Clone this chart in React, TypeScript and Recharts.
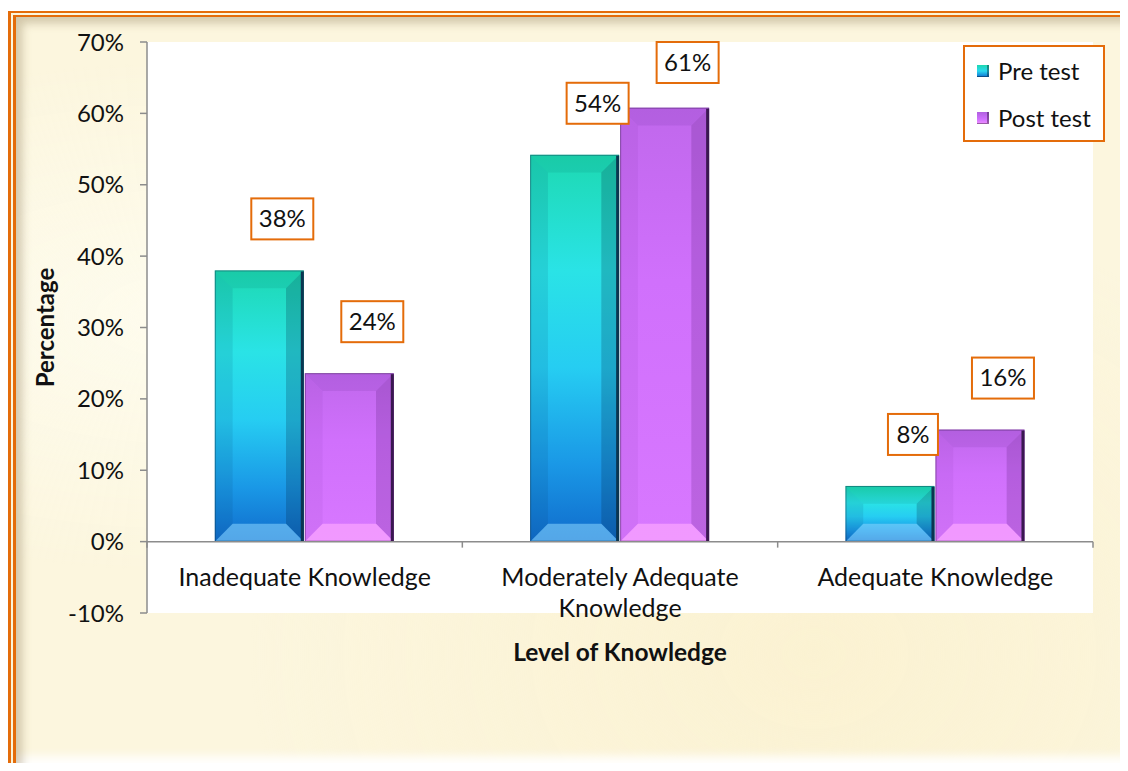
import { BarChart, Bar, XAxis, YAxis, CartesianGrid, Legend, LabelList, ReferenceLine, Label } from 'recharts'

const categories = ['Inadequate Knowledge', 'Moderately Adequate Knowledge', 'Adequate Knowledge']
const preTest = [38, 54.2, 7.8]
const postTest = [23.6, 60.8, 15.7]
const seriesNames = ['Pre test', 'Post test']
const yTicks = [-10, 0, 10, 20, 30, 40, 50, 60, 70]

const data = categories.map((name, i) => ({ name, pre: preTest[i], post: postTest[i] }))

const W = 1128
const H = 771
const MARGIN = { top: 42, right: 35, bottom: 128, left: 20 }
const Y_AXIS_W = 127
const X_AXIS_H = 30
const PLOT_TOP = MARGIN.top
const PLOT_H = H - MARGIN.top - MARGIN.bottom - X_AXIS_H
const PLOT_W = W - MARGIN.left - Y_AXIS_W - MARGIN.right
const Y_MIN = -10
const Y_MAX = 70
const ZERO_Y = PLOT_TOP + (Y_MAX / (Y_MAX - Y_MIN)) * PLOT_H
const HALF_BAND = PLOT_W / categories.length / 2

const FONT = 'Lato, "Open Sans", sans-serif'
const ORANGE = '#e46c0a'
const AXIS = '#8c8c8c'

const preColors = { face: 'preFace', top: 'rgba(0,90,80,0.10)', left: 'rgba(0,50,90,0.10)', right: 'rgba(0,30,60,0.22)', bottom: 'rgba(140,215,255,0.55)', edge: '#0b3550' }
const postColors = { face: 'postFace', top: 'rgba(90,30,140,0.12)', left: 'rgba(80,20,120,0.06)', right: 'rgba(60,10,90,0.18)', bottom: 'rgba(255,170,255,0.65)', edge: '#3a1850' }

function bevelShape(c: typeof preColors) {
  return (props: any) => {
    const { x, y, width, height } = props
    if (!height || height <= 0) return null
    const b = Math.min(19, width / 5, height / 3)
    const r = x + width
    const btm = y + height
    return (
      <g>
        <rect x={x} y={y} width={width} height={height} fill={`url(#${c.face})`} />
        <polygon points={`${x},${y} ${r},${y} ${r - b},${y + b} ${x + b},${y + b}`} fill={c.top} />
        <polygon points={`${x},${y} ${x + b},${y + b} ${x + b},${btm - b} ${x},${btm}`} fill={c.left} />
        <polygon points={`${r},${y} ${r},${btm} ${r - b},${btm - b} ${r - b},${y + b}`} fill={c.right} />
        <polygon points={`${x},${btm} ${x + b},${btm - b} ${r - b},${btm - b} ${r},${btm}`} fill={c.bottom} />
        <rect x={x + 0.5} y={y + 0.5} width={width - 1} height={height - 1} fill="none" stroke={c.edge} strokeOpacity={0.45} />
        <line x1={r - 1.5} y1={y + 1} x2={r - 1.5} y2={btm} stroke={c.edge} strokeWidth={3} />
      </g>
    )
  }
}

function BoxLabel(props: any) {
  const { x, y, width, value } = props
  const text = `${Math.round(value)}%`
  const bw = text.length * 12 + 26
  const bh = 41
  const cx = x + width / 2 + 23
  const top = Math.max(PLOT_TOP, y - 72)
  return (
    <g>
      <rect x={cx - bw / 2} y={top} width={bw} height={bh} fill="#fff" stroke={ORANGE} strokeWidth={2} />
      <text x={cx} y={top + bh / 2} dy="0.35em" textAnchor="middle" fontFamily={FONT} fontSize={24} fill="#111">{text}</text>
    </g>
  )
}

// wrap a category name into lines of at most 22 characters
function wrap(label: string) {
  const lines: string[] = []
  let cur = ''
  for (const w of label.split(' ')) {
    if (cur && (cur + ' ' + w).length > 22) {
      lines.push(cur)
      cur = w
    } else {
      cur = cur ? cur + ' ' + w : w
    }
  }
  if (cur) lines.push(cur)
  return lines
}

function CategoryTick(props: any) {
  const { x, payload, index } = props
  const lines = [<line key="l" x1={x - HALF_BAND} y1={ZERO_Y} x2={x - HALF_BAND} y2={ZERO_Y + 6} stroke={AXIS} strokeWidth={1.5} />]
  if (index === categories.length - 1) {
    lines.push(<line key="r" x1={x + HALF_BAND} y1={ZERO_Y} x2={x + HALF_BAND} y2={ZERO_Y + 6} stroke={AXIS} strokeWidth={1.5} />)
  }
  return (
    <g>
      {lines}
      <text x={x} y={ZERO_Y + 36} dy="0.35em" textAnchor="middle" fontFamily={FONT} fontSize={25} fill="#111">
        {wrap(payload.value).map((ln, i) => (
          <tspan key={i} x={x} dy={i === 0 ? '0.35em' : 31}>{ln}</tspan>
        ))}
      </text>
    </g>
  )
}

function LegendBox(props: any) {
  const items = [...(props.payload || [])].sort((a: any, b: any) => seriesNames.indexOf(a.value) - seriesNames.indexOf(b.value))
  return (
    <div style={{ width: 142, height: 97, boxSizing: 'border-box', border: `2px solid ${ORANGE}`, background: '#fff', fontFamily: FONT, fontSize: 24, color: '#111' }}>
      {items.map((it: any) => (
        <div key={it.value} style={{ display: 'flex', alignItems: 'center', height: 47, paddingLeft: 12 }}>
          <span style={{ display: 'inline-block', width: 12, height: 12, marginRight: 9, background: it.dataKey === 'pre' ? 'linear-gradient(#1ed8b0, #2ad8f0 50%, #1070d0)' : 'linear-gradient(#b060e0, #d070ff 60%, #f090ff)', boxShadow: 'inset -2px -1px 0 rgba(0,0,0,0.35)' }} />
          <span>{it.value}</span>
        </div>
      ))}
    </div>
  )
}

export default function App() {
  return (
    <div style={{ position: 'relative', width: W, height: H, margin: -8, overflow: 'hidden', background: '#fff' }}>
      <div style={{
        position: 'absolute', left: 8, top: 11, width: W + 20, height: H - 11, boxSizing: 'border-box',
        borderLeft: `8px double ${ORANGE}`, borderTop: `6px double ${ORANGE}`, borderBottom: `5px solid ${ORANGE}`,
        background: 'radial-gradient(ellipse at 15% 40%, #fefcee 0%, rgba(254,252,238,0) 40%), radial-gradient(ellipse at 70% 85%, #fbf2d2 0%, rgba(251,242,210,0) 50%), #fcf6de',
        boxShadow: 'inset 12px 12px 10px -6px rgba(130,110,70,0.35), inset -14px -16px 10px -6px rgba(255,255,255,0.95)',
      }} />
      <div style={{ position: 'absolute', left: 0, top: 0 }}>
        <BarChart width={W} height={H} data={data} margin={MARGIN} barCategoryGap="21.5%" barGap={1}>
          <defs>
            <linearGradient id="preFace" x1="0" y1="0" x2="0" y2="1">
              <stop offset="0%" stopColor="#1dd9b2" />
              <stop offset="30%" stopColor="#2ae3e6" />
              <stop offset="55%" stopColor="#26cdf2" />
              <stop offset="80%" stopColor="#1a98e6" />
              <stop offset="100%" stopColor="#106ccc" />
            </linearGradient>
            <linearGradient id="postFace" x1="0" y1="0" x2="0" y2="1">
              <stop offset="0%" stopColor="#c068ec" />
              <stop offset="40%" stopColor="#d070fc" />
              <stop offset="100%" stopColor="#d878ff" />
            </linearGradient>
          </defs>
          <CartesianGrid fill="#ffffff" stroke="none" />
          <XAxis dataKey="name" height={X_AXIS_H} axisLine={false} tickLine={false} tick={<CategoryTick />} interval={0}>
            <Label content={({ viewBox }: any) => (
              <text x={viewBox.x + viewBox.width / 2} y={viewBox.y + 39} dy="0.35em" textAnchor="middle" fontFamily={FONT} fontSize={24.5} fontWeight="bold" fill="#111">Level of Knowledge</text>
            )} />
          </XAxis>
          <YAxis width={Y_AXIS_W} domain={[Y_MIN, Y_MAX]} ticks={yTicks} tickFormatter={(v) => `${v}%`}
            axisLine={{ stroke: AXIS, strokeWidth: 1.5 }} tickLine={{ stroke: AXIS, strokeWidth: 1.5 }} tickSize={7} tickMargin={16}
            tick={{ fontFamily: FONT, fontSize: 24, fill: '#111' }} interval={0}>
            <Label content={({ viewBox }: any) => (
              <text x={viewBox.x + 26} y={viewBox.y + viewBox.height / 2} dy="0.35em" textAnchor="middle" fontFamily={FONT} fontSize={24} fontWeight="bold" fill="#111"
                transform={`rotate(-90 ${viewBox.x + 26} ${viewBox.y + viewBox.height / 2})`}>Percentage</text>
            )} />
          </YAxis>
          <ReferenceLine y={0} stroke={AXIS} strokeWidth={1.5} />
          <Legend layout="horizontal" verticalAlign="middle" align="center" content={<LegendBox />}
            wrapperStyle={{ position: 'absolute', left: 963, top: 45, width: 142, height: 97 }} />
          <Bar dataKey="pre" name="Pre test" shape={bevelShape(preColors)} isAnimationActive={false}>
            <LabelList dataKey="pre" content={<BoxLabel />} />
          </Bar>
          <Bar dataKey="post" name="Post test" shape={bevelShape(postColors)} isAnimationActive={false}>
            <LabelList dataKey="post" content={<BoxLabel />} />
          </Bar>
        </BarChart>
      </div>
    </div>
  )
}
